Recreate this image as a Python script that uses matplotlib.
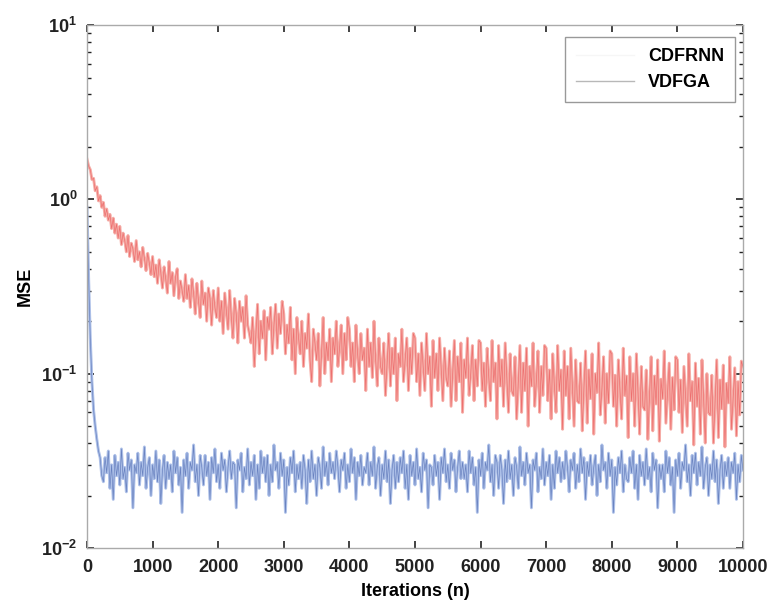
import numpy as np
import matplotlib
matplotlib.use('Agg')
import matplotlib.pyplot as plt
from matplotlib.ticker import FixedLocator, FixedFormatter, LogLocator, NullFormatter

# iterations, one sample every 25 iterations
iterations = np.arange(0, 10001, 25)

# VDFGA (red) MSE, 20 samples per 500 iterations
vdfga_mse = [
    1.70, 1.55, 1.48, 1.30, 1.32, 1.12, 1.18, 0.98, 1.05, 0.90, 0.96, 0.80, 0.88, 0.76, 0.82, 0.68, 0.78, 0.64, 0.72, 0.60,
    0.70, 0.55, 0.64, 0.58, 0.50, 0.62, 0.47, 0.56, 0.52, 0.44, 0.58, 0.45, 0.50, 0.41, 0.53, 0.46, 0.39, 0.49, 0.43, 0.37,
    0.47, 0.36, 0.42, 0.33, 0.45, 0.38, 0.31, 0.41, 0.35, 0.29, 0.44, 0.33, 0.38, 0.28, 0.36, 0.40, 0.27, 0.34, 0.30, 0.26,
    0.37, 0.27, 0.32, 0.24, 0.35, 0.29, 0.22, 0.33, 0.26, 0.21, 0.34, 0.25, 0.29, 0.20, 0.31, 0.27, 0.19, 0.30, 0.24, 0.21,
    0.31, 0.20, 0.26, 0.17, 0.29, 0.23, 0.18, 0.30, 0.21, 0.16, 0.27, 0.22, 0.15, 0.26, 0.20, 0.24, 0.16, 0.28, 0.19, 0.17,
    0.15, 0.21, 0.11, 0.17, 0.25, 0.13, 0.20, 0.16, 0.23, 0.12, 0.21, 0.18, 0.24, 0.13, 0.19, 0.25, 0.14, 0.22, 0.17, 0.26,
    0.22, 0.13, 0.19, 0.15, 0.24, 0.12, 0.18, 0.10, 0.21, 0.16, 0.13, 0.20, 0.11, 0.17, 0.14, 0.22, 0.12, 0.09, 0.18, 0.15,
    0.12, 0.17, 0.085, 0.13, 0.21, 0.10, 0.15, 0.12, 0.18, 0.09, 0.16, 0.13, 0.20, 0.11, 0.14, 0.19, 0.10, 0.17, 0.12, 0.21,
    0.18, 0.11, 0.15, 0.09, 0.19, 0.13, 0.10, 0.17, 0.12, 0.14, 0.08, 0.18, 0.11, 0.15, 0.095, 0.20, 0.12, 0.085, 0.16, 0.11,
    0.10, 0.15, 0.075, 0.115, 0.17, 0.085, 0.14, 0.10, 0.16, 0.07, 0.13, 0.11, 0.18, 0.09, 0.12, 0.16, 0.08, 0.14, 0.10, 0.17,
    0.16, 0.09, 0.13, 0.075, 0.15, 0.11, 0.08, 0.17, 0.10, 0.125, 0.065, 0.155, 0.095, 0.13, 0.08, 0.16, 0.105, 0.07, 0.14, 0.095,
    0.085, 0.135, 0.065, 0.10, 0.155, 0.07, 0.125, 0.09, 0.15, 0.06, 0.12, 0.095, 0.16, 0.075, 0.10, 0.145, 0.07, 0.12, 0.085, 0.155,
    0.15, 0.08, 0.115, 0.065, 0.14, 0.095, 0.07, 0.155, 0.09, 0.115, 0.055, 0.145, 0.085, 0.12, 0.065, 0.15, 0.095, 0.06, 0.13, 0.08,
    0.075, 0.125, 0.055, 0.09, 0.145, 0.06, 0.115, 0.08, 0.14, 0.05, 0.11, 0.085, 0.15, 0.065, 0.09, 0.135, 0.06, 0.11, 0.075, 0.145,
    0.14, 0.07, 0.105, 0.055, 0.13, 0.085, 0.06, 0.145, 0.08, 0.105, 0.048, 0.135, 0.075, 0.11, 0.055, 0.14, 0.085, 0.05, 0.12, 0.07,
    0.068, 0.115, 0.047, 0.082, 0.135, 0.052, 0.105, 0.072, 0.13, 0.045, 0.10, 0.078, 0.15, 0.058, 0.082, 0.125, 0.052, 0.10, 0.068, 0.135,
    0.13, 0.065, 0.098, 0.05, 0.12, 0.08, 0.055, 0.14, 0.075, 0.097, 0.043, 0.125, 0.07, 0.10, 0.05, 0.13, 0.078, 0.045, 0.11, 0.065,
    0.062, 0.105, 0.042, 0.075, 0.125, 0.047, 0.097, 0.067, 0.12, 0.041, 0.093, 0.072, 0.135, 0.052, 0.077, 0.115, 0.048, 0.095, 0.062, 0.125,
    0.12, 0.06, 0.092, 0.046, 0.11, 0.074, 0.05, 0.13, 0.07, 0.09, 0.039, 0.115, 0.065, 0.094, 0.045, 0.12, 0.072, 0.04, 0.10, 0.06,
    0.058, 0.098, 0.04, 0.07, 0.12, 0.043, 0.092, 0.063, 0.112, 0.038, 0.088, 0.068, 0.125, 0.048, 0.072, 0.108, 0.044, 0.09, 0.058, 0.118,
    0.11,
]

# CDFRNN (blue) MSE
cdfrnn_mse = [
    0.90, 0.35, 0.16, 0.090, 0.062, 0.050, 0.042, 0.036, 0.033, 0.026,
    0.024, 0.033, 0.027, 0.036, 0.022, 0.030, 0.019, 0.034, 0.026, 0.031, 0.023, 0.037, 0.025, 0.029, 0.021, 0.035, 0.028, 0.032, 0.017, 0.030,
    0.027, 0.035, 0.023, 0.031, 0.026, 0.038, 0.022, 0.029, 0.033, 0.020, 0.030, 0.025, 0.036, 0.024, 0.032, 0.018, 0.028, 0.034, 0.022, 0.031,
    0.025, 0.030, 0.021, 0.036, 0.027, 0.033, 0.023, 0.029, 0.016, 0.032, 0.026, 0.035, 0.022, 0.031, 0.028, 0.039, 0.024, 0.030, 0.020, 0.034,
    0.029, 0.023, 0.034, 0.026, 0.031, 0.019, 0.033, 0.027, 0.037, 0.024, 0.030, 0.022, 0.035, 0.028, 0.032, 0.021, 0.029, 0.036, 0.025, 0.031,
    0.030, 0.017, 0.032, 0.028, 0.035, 0.021, 0.029, 0.025, 0.037, 0.023, 0.031, 0.026, 0.034, 0.019, 0.030, 0.022, 0.036, 0.027, 0.033, 0.024,
    0.034, 0.020, 0.030, 0.024, 0.039, 0.028, 0.031, 0.022, 0.035, 0.026, 0.032, 0.016, 0.029, 0.023, 0.033, 0.027, 0.036, 0.021, 0.030, 0.025,
    0.031, 0.022, 0.034, 0.028, 0.018, 0.032, 0.024, 0.036, 0.025, 0.030, 0.020, 0.033, 0.029, 0.022, 0.038, 0.026, 0.031, 0.023, 0.035, 0.027,
    0.031, 0.025, 0.036, 0.029, 0.021, 0.032, 0.028, 0.035, 0.022, 0.030, 0.024, 0.037, 0.027, 0.033, 0.019, 0.031, 0.026, 0.034, 0.023, 0.029,
    0.027, 0.035, 0.023, 0.031, 0.026, 0.038, 0.022, 0.029, 0.033, 0.020, 0.030, 0.025, 0.036, 0.024, 0.032, 0.018, 0.028, 0.034, 0.022, 0.031,
    0.024, 0.033, 0.027, 0.036, 0.022, 0.030, 0.019, 0.034, 0.026, 0.031, 0.023, 0.037, 0.025, 0.029, 0.021, 0.035, 0.028, 0.032, 0.017, 0.030,
    0.029, 0.023, 0.034, 0.026, 0.031, 0.019, 0.033, 0.027, 0.037, 0.024, 0.030, 0.022, 0.035, 0.028, 0.032, 0.021, 0.029, 0.036, 0.025, 0.031,
    0.025, 0.030, 0.021, 0.036, 0.027, 0.033, 0.023, 0.029, 0.016, 0.032, 0.026, 0.035, 0.022, 0.031, 0.028, 0.039, 0.024, 0.030, 0.020, 0.034,
    0.031, 0.022, 0.034, 0.028, 0.018, 0.032, 0.024, 0.036, 0.025, 0.030, 0.020, 0.033, 0.029, 0.022, 0.038, 0.026, 0.031, 0.023, 0.035, 0.027,
    0.030, 0.017, 0.032, 0.028, 0.035, 0.021, 0.029, 0.025, 0.037, 0.023, 0.031, 0.026, 0.034, 0.019, 0.030, 0.022, 0.036, 0.027, 0.033, 0.024,
    0.031, 0.025, 0.036, 0.029, 0.021, 0.032, 0.028, 0.035, 0.022, 0.030, 0.024, 0.037, 0.027, 0.033, 0.019, 0.031, 0.026, 0.034, 0.023, 0.029,
    0.034, 0.020, 0.030, 0.024, 0.039, 0.028, 0.031, 0.022, 0.035, 0.026, 0.032, 0.016, 0.029, 0.023, 0.033, 0.027, 0.036, 0.021, 0.030, 0.025,
    0.024, 0.033, 0.027, 0.036, 0.022, 0.030, 0.019, 0.034, 0.026, 0.031, 0.023, 0.037, 0.025, 0.029, 0.021, 0.035, 0.028, 0.032, 0.017, 0.030,
    0.025, 0.030, 0.021, 0.036, 0.027, 0.033, 0.023, 0.029, 0.016, 0.032, 0.026, 0.035, 0.022, 0.031, 0.028, 0.039, 0.024, 0.030, 0.020, 0.034,
    0.027, 0.035, 0.023, 0.031, 0.026, 0.038, 0.022, 0.029, 0.033, 0.020, 0.030, 0.025, 0.036, 0.024, 0.032, 0.018, 0.028, 0.034, 0.022, 0.031,
    0.026, 0.033, 0.022, 0.031, 0.027, 0.035, 0.019, 0.030, 0.024, 0.034, 0.028,
]

series_names = ['CDFRNN', 'VDFGA']
xtick_values = list(range(0, 10001, 1000))
ytick_values = [1e-2, 1e-1, 1e0, 1e1]
ytick_labels = [r'$\mathbf{10^{-2}}$', r'$\mathbf{10^{-1}}$', r'$\mathbf{10^{0}}$', r'$\mathbf{10^{1}}$']

plt.rcParams['font.family'] = ['Liberation Sans', 'DejaVu Sans']
plt.rcParams['mathtext.fontset'] = 'custom'
plt.rcParams['mathtext.bf'] = 'Liberation Sans:bold'
plt.rcParams['mathtext.rm'] = 'Liberation Sans:bold'

fig = plt.figure(figsize=(7.72, 6.03), dpi=100)
ax = fig.add_axes([0.1127, 0.0912, 0.8497, 0.8673])

# light band first, darker core on top
ax.plot(iterations, cdfrnn_mse, color='#adc0e8', lw=2.1, label=series_names[0])
ax.plot(iterations, cdfrnn_mse, color='#3d5aa6', lw=0.5, alpha=0.6)
ax.plot(iterations, vdfga_mse, color='#f5aca6', lw=2.1, label=series_names[1])
ax.plot(iterations, vdfga_mse, color='#e8474a', lw=0.5, alpha=0.6)

ax.set_yscale('log')
ax.set_xlim(0, 10000)
ax.set_ylim(1e-2, 1e1)

ax.xaxis.set_major_locator(FixedLocator(xtick_values))
ax.set_xticklabels([str(v) for v in xtick_values])
ax.yaxis.set_major_locator(FixedLocator(ytick_values))
ax.yaxis.set_major_formatter(FixedFormatter(ytick_labels))
ax.yaxis.set_minor_locator(LogLocator(base=10, subs=np.arange(2, 10)))
ax.yaxis.set_minor_formatter(NullFormatter())

ax.tick_params(which='both', direction='in', top=True, right=True,
               labelsize=13, colors='#222222')
ax.tick_params(which='major', length=5, width=1.2)
ax.tick_params(which='minor', length=3, width=1.0)
ax.tick_params(axis='y', which='major', pad=7)
ax.tick_params(axis='x', which='major', pad=8)
for lab in ax.get_xticklabels():
    lab.set_fontweight('bold')
for sp in ax.spines.values():
    sp.set_color('#aaaaaa')
    sp.set_linewidth(1.0)

ax.set_xlabel('Iterations (n)', fontsize=13, fontweight='bold', labelpad=5)
ax.set_ylabel('MSE', fontsize=13, fontweight='bold', labelpad=5)

# legend handles are almost washed out in the original
leg = ax.legend(loc='upper right', bbox_to_anchor=(0.988, 0.977), borderaxespad=0,
                fancybox=False, edgecolor='#999999', handlelength=3.2, borderpad=0.6,
                prop={'weight': 'bold', 'size': 13}, framealpha=1)
leg.get_frame().set_linewidth(1.0)
leg.legend_handles[0].set_color('#f6f6f6')
leg.legend_handles[0].set_linewidth(1.0)
leg.legend_handles[1].set_color('#b8b8b8')
leg.legend_handles[1].set_linewidth(1.0)

fig.savefig('out.png', dpi=100)
